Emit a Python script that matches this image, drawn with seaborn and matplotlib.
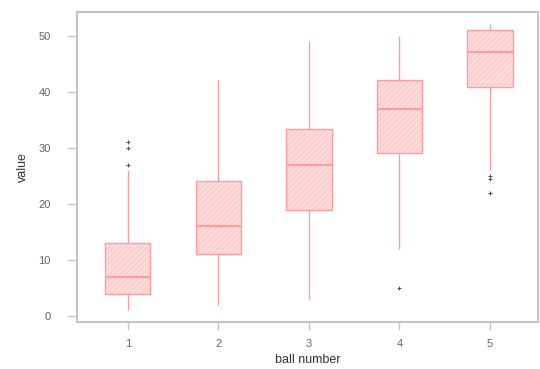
import matplotlib
matplotlib.use("Agg")
import matplotlib.pyplot as plt
import matplotlib.colors as mcolors
import seaborn as sns
import pandas as pd

ball_1 = [1, 2, 3, 3.5, 4, 5, 6, 6.5, 7, 8, 10, 12, 13, 26, 27, 30, 31]
ball_2 = [2, 5, 8, 11, 13, 15, 16, 19, 21, 24, 30, 36, 42]
ball_3 = [3, 10, 19, 23, 27, 30, 33.3, 41, 49]
ball_4 = [5, 12, 22, 26, 29, 32, 35, 36, 37, 39, 40, 41, 42, 45, 47, 48, 50]
ball_5 = [22, 24.5, 25, 26, 40.8, 43, 45, 46, 47, 48, 49, 50, 51, 51.5, 51.7, 51.8, 52]
categories = ["1", "2", "3", "4", "5"]
y_ticks = [0, 10, 20, 30, 40, 50]

groups = [ball_1, ball_2, ball_3, ball_4, ball_5]
rows = []
for cat, vals in zip(categories, groups):
    for v in vals:
        rows.append({"ball number": cat, "value": v})
df = pd.DataFrame(rows)

sns.set_style("white")
plt.rcParams["font.family"] = ["Liberation Sans", "DejaVu Sans"]
plt.rcParams["hatch.linewidth"] = 0.5

fig = plt.figure(figsize=(5.4, 3.69), dpi=100)
ax = fig.add_axes([77 / 540, 1 - 322 / 369, (538 - 77) / 540, (322 - 12) / 369])

line_col = "#ff9c9c"
sns.boxplot(
    data=df, x="ball number", y="value", order=categories, ax=ax,
    width=0.5, whis=1.5,
    boxprops=dict(facecolor="#ffdcdc", edgecolor=line_col, linewidth=1.0),
    whiskerprops=dict(color=line_col, linewidth=1.0),
    capprops=dict(color=line_col, linewidth=0),
    medianprops=dict(color=line_col, linewidth=1.5),
    flierprops=dict(marker="+", markersize=3, markeredgecolor="#555555",
                    markerfacecolor="#555555", markeredgewidth=0.8),
)
for p in ax.patches:
    p.set_hatch("//////")
    p._hatch_color = mcolors.to_rgba("#ffbaba")

ax.set_xlim(-0.56, 4.53)
ax.set_ylim(-1.05, 54.2)
ax.set_yticks(y_ticks)

for s in ax.spines.values():
    s.set_color("#c4c4c4")
    s.set_linewidth(1.5)
    s.set_visible(True)
ax.tick_params(axis="both", which="major", left=True, bottom=True, direction="out",
               width=1, color="#c4c4c4", labelsize=8, labelcolor="#666666")
ax.tick_params(axis="y", length=7, pad=12)
ax.tick_params(axis="x", length=6, pad=6)
ax.set_xlabel("ball number", fontsize=9, color="#333333", labelpad=4)
ax.set_ylabel("value", fontsize=9, color="#333333", labelpad=7)

fig.savefig("out.png", dpi=100)
